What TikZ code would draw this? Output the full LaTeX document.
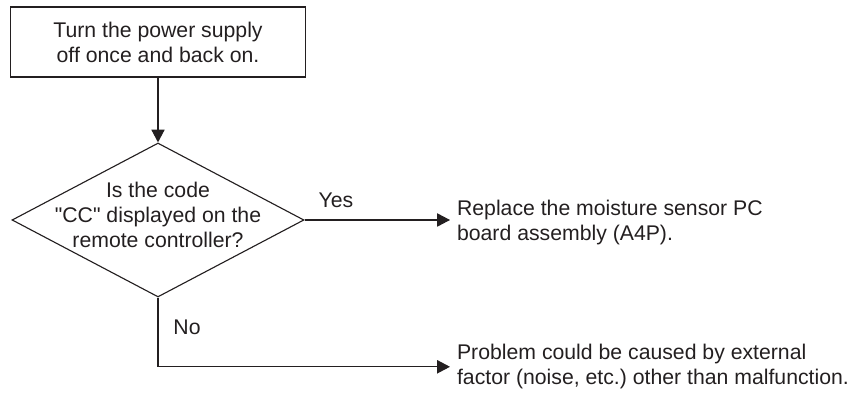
\documentclass[tikz,border=0pt]{standalone}
\usepackage{fontspec}
\setmainfont{Liberation Sans}
\usetikzlibrary{arrows.meta, shapes.geometric}
\definecolor{my_black}{HTML}{231F20}
\frenchspacing

\begin{document}
\begin{tikzpicture}[
    every node/.style={font=\fontsize{15.1}{17.8}\selectfont, text=my_black},
    stepbox/.style={draw=my_black, line width=0.8pt, align=center, inner sep=0pt,
                    minimum width=7.375cm, minimum height=1.75cm},
    decision/.style={diamond, draw=my_black, line width=0.8pt, inner sep=0pt,
                     minimum width=7.3cm, minimum height=3.85cm},
    note/.style={align=left, anchor=west, inner xsep=0.17cm, inner ysep=0pt},
    flow/.style={draw=my_black, line width=0.8pt,
                 -{Triangle[length=0.32cm, width=0.33cm]}}
]
\useasboundingbox (0, 0) rectangle (21.425, 9.85);

%% ---- Schritt: Spannung aus/ein ----
\node[stepbox] (power) at (3.95, 8.8)
    {Turn the power supply\\off once and back on.};

%% ---- Abfrage (Raute) ----
\node[decision] (query) at (3.95, 4.35) {};
\node[align=center, inner sep=0pt] (querytext) at ([yshift=0.12cm]query.center)
    {Is the code\\\textquotedbl CC\textquotedbl{} displayed on the\\remote controller?};

%% ---- Ergebnisse ----
\node[note] (fix) at (11.25, 4.28)
    {Replace the moisture sensor PC\\board assembly (A4P).};
\node[note] (cause) at (11.25, 0.68)
    {Problem could be caused by external\\factor (noise, etc.) other than malfunction.};

%% ---- Verbindungen ----
\draw[flow] (power) -- (query);
\draw[flow] (query.east) -- (query.east -| fix.west);
\draw[flow] (query.south) |- (cause.west);

%% ---- Beschriftungen ----
\node (yes) at (8.4, 4.83) {Yes};
\node (no) at (4.675, 1.675) {No};

\end{tikzpicture}
\end{document}
